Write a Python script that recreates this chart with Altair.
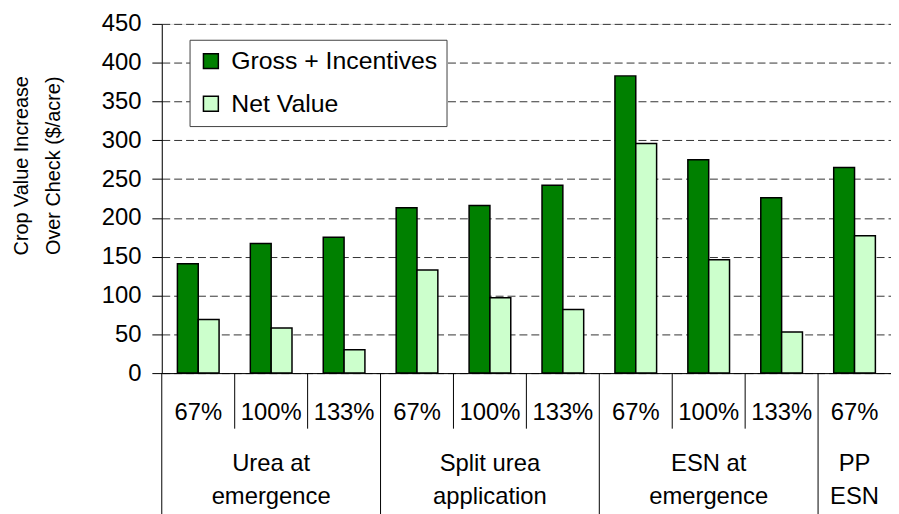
import altair as alt
import pandas as pd

FONT = "Liberation Sans"

# ---- data ----
groups = ["Urea at\nemergence"] * 3 + ["Split urea\napplication"] * 3 + ["ESN at\nemergence"] * 3 + ["PP\nESN"]
rates = ["67%", "100%", "133%", "67%", "100%", "133%", "67%", "100%", "133%", "67%"]
gross = [141, 167, 175, 213, 216, 242, 383, 275, 226, 265]
net = [69, 58, 30, 133, 97, 82, 296, 146, 53, 177]
series = ["Gross + Incentives", "Net Value"]
colors = ["#008000", "#CCFFCC"]
y_ticks = [0, 50, 100, 150, 200, 250, 300, 350, 400, 450]
y_title = "Crop Value Increase\nOver Check ($/acre)"

n = len(rates)
keys = [f"c{i}" for i in range(n)]

rows = []
for i in range(n):
    rows.append({"cat": keys[i], "series": series[0], "value": gross[i]})
    rows.append({"cat": keys[i], "series": series[1], "value": net[i]})
bars_df = pd.DataFrame(rows)

tick_df = pd.DataFrame({"pos": [i + 0.5 for i in range(n)], "label": rates})

# group spans
starts, names = [], []
for i, g in enumerate(groups):
    if i == 0 or groups[i - 1] != g:
        starts.append(i)
        names.append(g)
ends = starts[1:] + [n]
group_df = pd.DataFrame({"pos": [(s + e) / 2 for s, e in zip(starts, ends)], "label": names})
long_df = pd.DataFrame({"pos": starts})
short_df = pd.DataFrame({"pos": [i for i in range(1, n) if i not in starts]})
title_df = pd.DataFrame({"t": [y_title]})

W, H = 735, 352

bars = alt.Chart(bars_df).mark_bar(stroke="black", strokeWidth=1.5).encode(
    x=alt.X("cat:N", sort=keys, scale=alt.Scale(paddingInner=0, paddingOuter=0),
            axis=alt.Axis(labels=False, ticks=False, domain=True, domainColor="black",
                          domainWidth=1, title=None, grid=False)),
    xOffset=alt.XOffset("series:N", sort=series,
                        scale=alt.Scale(paddingOuter=0.75, paddingInner=0)),
    y=alt.Y("value:Q", scale=alt.Scale(domain=[0, 450], nice=False),
            axis=alt.Axis(values=y_ticks, tickSize=10, tickColor="black", domainColor="black",
                          labelFontSize=24, labelFont=FONT, labelColor="black", labelPadding=11,
                          gridDash=[8, 4], gridColor="#333333", gridWidth=1, title=None)),
    color=alt.Color("series:N", sort=series,
                    scale=alt.Scale(domain=series, range=colors),
                    legend=alt.Legend(orient="none", legendX=28, legendY=16, title=None,
                                      fillColor="white", strokeColor="#404040", padding=9,
                                      labelFontSize=25, labelFont=FONT, labelColor="black",
                                      labelLimit=400,
                                      labelOffset=8, symbolType="square", symbolSize=225,
                                      symbolStrokeColor="black", symbolStrokeWidth=1.5,
                                      symbolOpacity=1, rowPadding=17)),
)

xq = alt.X("pos:Q", scale=alt.Scale(domain=[0, n], nice=False, zero=False), axis=None)

short_rules = alt.Chart(short_df).mark_rule(color="black", strokeWidth=1).encode(
    x=xq, y=alt.value(H), y2=alt.value(408))
long_rules = alt.Chart(long_df).mark_rule(color="black", strokeWidth=1).encode(
    x=xq, y=alt.value(H), y2=alt.value(496))

tick_text = alt.Chart(tick_df).mark_text(font=FONT, fontSize=24, color="black",
                                         align="center", baseline="alphabetic").encode(
    x=xq, y=alt.value(399), text="label:N")

group_text = alt.Chart(group_df).mark_text(font=FONT, fontSize=24, color="black",
                                           align="center", baseline="alphabetic",
                                           lineBreak="\n", lineHeight=33).encode(
    x=xq, y=alt.value(451), text="label:N")

title_text = alt.Chart(title_df).mark_text(font=FONT, fontSize=20, color="black",
                                           align="center", baseline="middle", angle=270,
                                           lineBreak="\n", lineHeight=32).encode(
    x=alt.value(-141), y=alt.value(143), text="t:N")

annot = alt.layer(short_rules, long_rules, tick_text, group_text, title_text)

chart = alt.layer(bars, annot).resolve_scale(x="independent").properties(
    width=W, height=H,
    padding={"left": 155, "top": 14, "right": 0, "bottom": 140},
    autosize=alt.AutoSizeParams(type="none"),
).configure_view(strokeWidth=0).configure(background="white")

chart.save("out.html", embed_options={"renderer": "svg", "actions": False})
